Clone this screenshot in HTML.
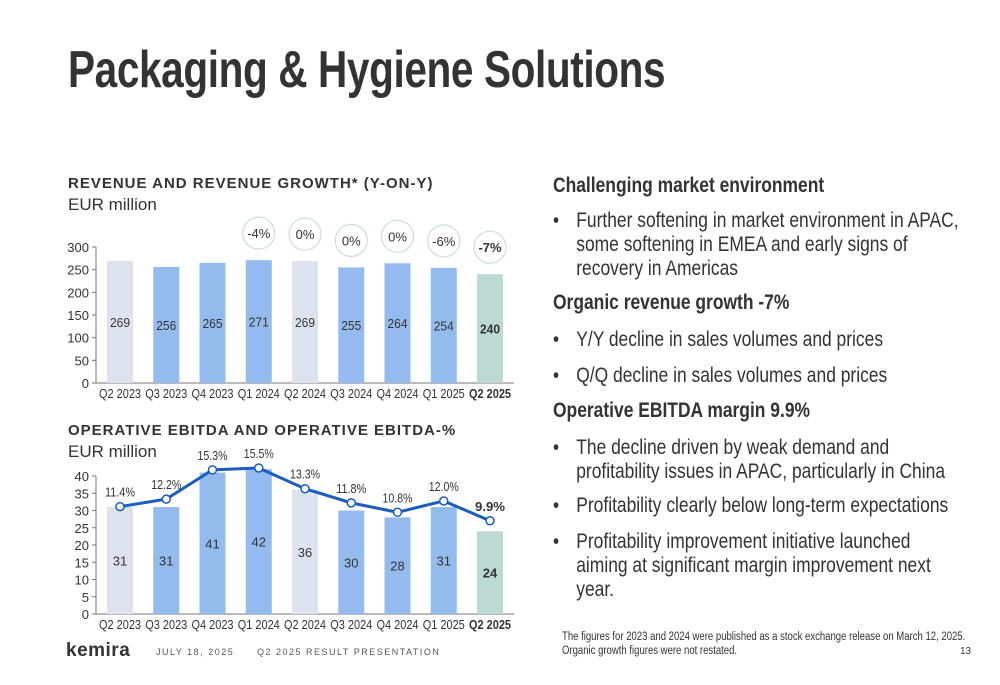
<!DOCTYPE html>
<html><head><meta charset="utf-8"><style>
body{margin:0;width:1000px;height:685px;background:#fff;overflow:hidden;font-family:"Liberation Sans",sans-serif;color:#333;position:relative}
.abs{position:absolute;margin:0}
.title{left:68px;top:40px;font-size:52px;font-weight:bold;color:#333;letter-spacing:-0.5px;transform:scaleX(0.78);transform-origin:left top;white-space:nowrap}
.ctitle{font-weight:bold;font-size:15px;letter-spacing:1px;color:#333;white-space:nowrap}
.sub{font-size:17px;color:#333}
.cond{transform:scaleX(0.83);transform-origin:left top;white-space:nowrap}
.rh{font-weight:bold;font-size:21px;color:#333}
.bul{font-size:21px;line-height:24px;color:#333;padding-left:28px;width:500px;white-space:normal;position:absolute}
.bul:before{content:"•";position:absolute;left:0}
</style></head><body>
<h1 class="abs title">Packaging &amp; Hygiene Solutions</h1>

<div class="abs ctitle" style="left:68px;top:175px">REVENUE AND REVENUE GROWTH* (Y-ON-Y)</div>
<div class="abs sub" style="left:68px;top:195px">EUR million</div>
<div class="abs ctitle" style="left:68px;top:422px">OPERATIVE EBITDA AND OPERATIVE EBITDA-%</div>
<div class="abs sub" style="left:68px;top:442px">EUR million</div>

<svg class="abs" style="left:0;top:0" width="540" height="685" id="charts"></svg>

<div class="abs cond" style="left:553px;top:0;width:540px;height:685px">
<div class="abs rh" style="left:0;top:174px">Challenging market environment</div>
<div class="bul" style="left:0;top:209px;width:472px">Further softening in market environment in APAC, some softening in EMEA and early signs of recovery in Americas</div>
<div class="abs rh" style="left:0;top:291px">Organic revenue growth -7%</div>
<div class="bul" style="left:0;top:328px">Y/Y decline in sales volumes and prices</div>
<div class="bul" style="left:0;top:364px">Q/Q decline in sales volumes and prices</div>
<div class="abs rh" style="left:0;top:399px">Operative EBITDA margin 9.9%</div>
<div class="bul" style="left:0;top:436px;width:470px">The decline driven by weak demand and profitability issues in APAC, particularly in China</div>
<div class="bul" style="left:0;top:494px">Profitability clearly below long-term expectations</div>
<div class="bul" style="left:0;top:530px;width:450px">Profitability improvement initiative launched aiming at significant margin improvement next year.</div>
</div>

<div class="abs cond" style="left:562px;top:630px;font-size:11.5px;line-height:14px">The figures for 2023 and 2024 were published as a stock exchange release on March 12, 2025.<br>Organic growth figures were not restated.</div>
<div class="abs" style="left:960px;top:646px;font-size:10px">13</div>
<div class="abs" style="left:66px;top:640px;font-weight:bold;font-size:19px;color:#333;letter-spacing:0.5px">kemira</div>
<div class="abs" style="left:156px;top:647px;font-size:9px;letter-spacing:1.5px;color:#555">JULY 18, 2025</div>
<div class="abs" style="left:257px;top:647px;font-size:9px;letter-spacing:1.5px;color:#555">Q2 2025 RESULT PRESENTATION</div>

<script>
const categories=["Q2 2023","Q3 2023","Q4 2023","Q1 2024","Q2 2024","Q3 2024","Q4 2024","Q1 2025","Q2 2025"];
const revenue=[269,256,265,271,269,255,264,254,240];
const growth=[null,null,null,"-4%","0%","0%","0%","-6%","-7%"];
const ebitda=[31,31,41,42,36,30,28,31,24];
const margin=[11.4,12.2,15.3,15.5,13.3,11.8,10.8,12.0,9.9];
const revTicks=[0,50,100,150,200,250,300];
const ebTicks=[0,5,10,15,20,25,30,35,40];

const svg=document.getElementById('charts');
const NS='http://www.w3.org/2000/svg';
function mk(tag,attrs,parent){const e=document.createElementNS(NS,tag);for(const k in attrs)e.setAttribute(k,attrs[k]);(parent||svg).appendChild(e);return e;}
function colorFor(i){if(i===categories.length-1)return '#bcd9d6';return (i===0||i===4)?'#dde3ee':'#94bbee';}
const xC=i=>120+i*46.25;
const bw=26;
const last=categories.length-1;
function label(x,y,txt,bold,len){
 const a={x:x,y:y,'text-anchor':'middle','font-size':13,fill:'#333','font-family':'Liberation Sans, sans-serif','font-weight':bold?'bold':'normal'};
 if(len){a.textLength=len;a.lengthAdjust='spacingAndGlyphs';}
 const t=mk('text',a);t.textContent=txt;return t;
}
// Revenue chart
const y1=v=>383-v*(136/300);
revTicks.forEach(t=>{
 const tx=label(89,y1(t)+5,t,false);tx.setAttribute('text-anchor','end');
 
 
 mk('line',{x1:92,x2:96,y1:y1(t),y2:y1(t),stroke:'#777'});
});
mk('line',{x1:96,x2:514,y1:y1(0),y2:y1(0),stroke:'#777'});
mk('line',{x1:96,x2:96,y1:y1(0),y2:y1(300),stroke:'#777'});
revenue.forEach((v,i)=>{
 const r=mk('rect',{x:xC(i)-bw/2,y:y1(v),width:bw,height:y1(0)-y1(v),fill:colorFor(i)});
 
 
 const t=label(xC(i),y1(v/2)+5,v,i===last,20);
 
 
 const l=label(xC(i),398,categories[i],i===last,42);
 
 
 if(growth[i]!==null){
  const cy=y1(v)-27;
  const c=mk('circle',{cx:xC(i),cy:cy,r:16,fill:'#fff',stroke:'#c5e0dc','stroke-width':1.2});
  
  
  const g=label(xC(i),cy+5,growth[i],i===last);
  
  
 }
});
// EBITDA chart
const y2=v=>614-v*(138/40);
const ym=p=>y2(p*2.73);
ebTicks.forEach(t=>{
 const tx=label(89,y2(t)+5,t,false);tx.setAttribute('text-anchor','end');
 
 
 mk('line',{x1:92,x2:96,y1:y2(t),y2:y2(t),stroke:'#777'});
});
mk('line',{x1:96,x2:514,y1:y2(0),y2:y2(0),stroke:'#777'});
mk('line',{x1:96,x2:96,y1:y2(0),y2:y2(40),stroke:'#777'});
ebitda.forEach((v,i)=>{
 const r=mk('rect',{x:xC(i)-bw/2,y:y2(v),width:bw,height:y2(0)-y2(v),fill:colorFor(i)});
 
 
 const t=label(xC(i),y2(v/2)+5,v,i===last);
 
 
 const l=label(xC(i),629,categories[i],i===last,42);
 
 
});
const line=mk('polyline',{points:margin.map((p,i)=>xC(i)+','+ym(p)).join(' '),fill:'none',stroke:'#1a5cbf','stroke-width':3});


margin.forEach((p,i)=>{
 const c=mk('circle',{cx:xC(i),cy:ym(p),r:4,fill:'#fff',stroke:'#1a5cbf','stroke-width':1.5});
 
 
 const t=label(xC(i),ym(p)-10,p.toFixed(1)+'%',i===last,30);
 
 
});
</script>
</body></html>
